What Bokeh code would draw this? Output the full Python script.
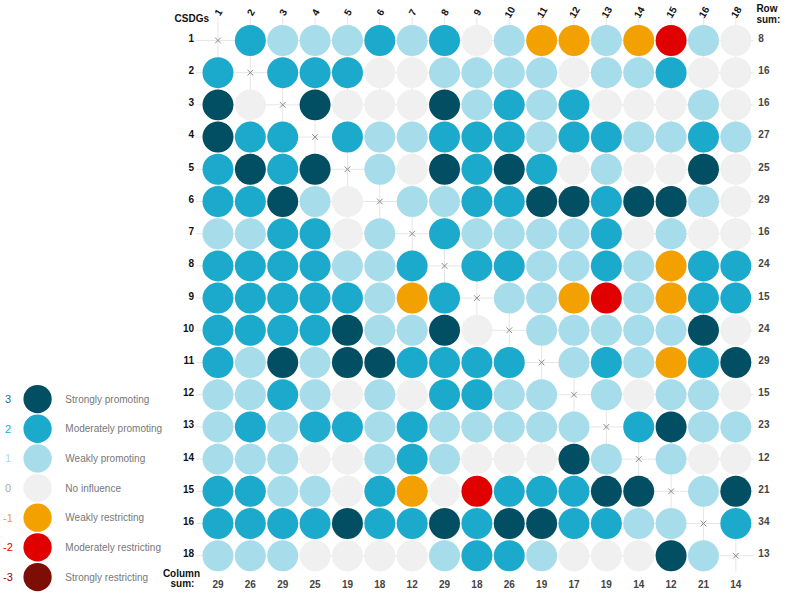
import math
from bokeh.plotting import figure
from bokeh.models import ColumnDataSource, Range1d
from bokeh.core.properties import value
from bokeh.embed import file_html
from bokeh.resources import INLINE

# ---------------- data ----------------
sdgs = ["1", "2", "3", "4", "5", "6", "7", "8", "9", "10", "11", "12", "13", "14", "15", "16", "18"]

# influence of row SDG on column SDG (None = diagonal)
sdg_1 = [None, 2, 1, 1, 1, 2, 1, 2, 0, 1, -1, -1, 1, -1, -2, 1, 0]
sdg_2 = [2, None, 2, 2, 2, 0, 0, 1, 1, 1, 1, 0, 1, 1, 2, 0, 0]
sdg_3 = [3, 0, None, 3, 0, 0, 0, 3, 1, 2, 1, 2, 0, 0, 0, 1, 0]
sdg_4 = [3, 2, 2, None, 2, 1, 1, 2, 2, 2, 1, 2, 2, 1, 1, 2, 1]
sdg_5 = [2, 3, 2, 3, None, 1, 0, 3, 2, 3, 2, 0, 1, 0, 0, 3, 0]
sdg_6 = [2, 2, 3, 1, 0, None, 1, 1, 2, 2, 3, 3, 2, 3, 3, 1, 0]
sdg_7 = [1, 1, 2, 2, 0, 1, None, 2, 1, 1, 1, 1, 2, 0, 1, 0, 0]
sdg_8 = [2, 2, 2, 2, 1, 1, 2, None, 2, 2, 1, 1, 2, 1, -1, 2, 2]
sdg_9 = [2, 2, 2, 2, 2, 1, -1, 2, None, 1, 1, -1, -2, 1, -1, 2, 2]
sdg_10 = [2, 2, 2, 2, 3, 1, 1, 3, 0, None, 1, 1, 1, 1, 1, 3, 0]
sdg_11 = [2, 1, 3, 1, 3, 3, 2, 2, 2, 2, None, 1, 2, 1, -1, 2, 3]
sdg_12 = [1, 1, 2, 1, 0, 1, 0, 2, 2, 1, 1, None, 1, 0, 1, 1, 0]
sdg_13 = [1, 2, 1, 2, 2, 1, 2, 1, 1, 1, 1, 1, None, 2, 3, 1, 1]
sdg_14 = [1, 1, 1, 0, 0, 1, 2, 1, 0, 0, 0, 3, 1, None, 1, 0, 0]
sdg_15 = [2, 2, 1, 1, 0, 2, -1, 0, -2, 2, 2, 2, 3, 3, None, 1, 3]
sdg_16 = [2, 2, 2, 2, 3, 2, 2, 3, 2, 3, 3, 2, 2, 1, 1, None, 2]
sdg_18 = [1, 1, 1, 0, 0, 0, 0, 1, 2, 2, 1, 0, 0, 0, 3, 1, None]

row_sums = [8, 16, 16, 27, 25, 29, 16, 24, 15, 24, 29, 15, 23, 12, 21, 34, 13]
col_sums = [29, 26, 29, 25, 19, 18, 12, 29, 18, 26, 19, 17, 19, 14, 12, 21, 14]

levels = [3, 2, 1, 0, -1, -2, -3]
level_names = ["Strongly promoting", "Moderately promoting", "Weakly promoting",
               "No influence", "Weakly restricting", "Moderately restricting",
               "Strongly restricting"]

# ---------------- styles ----------------
level_colors = {3: "#024e62", 2: "#1ba9cc", 1: "#a7dceb", 0: "#f0f0f0",
                -1: "#f2a100", -2: "#e00000", -3: "#7c0e06"}
level_text_colors = {3: "#1d6a7e", 2: "#1ba9cc", 1: "#a7dceb", 0: "#aaaaaa",
                     -1: "#f2a100", -2: "#e00000", -3: "#7c0e06"}
FONT = value("Liberation Sans")

# reference-pixel to grid-unit helpers (layout only)
X0, DX = 221.7, 33.44
Y0, DY = 37.5, 33.45
def gx(px):
    return (px - X0) / DX
def gy(py):
    return (py - Y0) / DY

matrix = [sdg_1, sdg_2, sdg_3, sdg_4, sdg_5, sdg_6, sdg_7, sdg_8, sdg_9,
          sdg_10, sdg_11, sdg_12, sdg_13, sdg_14, sdg_15, sdg_16, sdg_18]
n = len(sdgs)

p = figure(width=783, height=595, output_backend="svg", toolbar_location=None,
           x_range=Range1d(gx(-3), gx(806)), y_range=Range1d(gy(614), gy(-4)),
           x_axis_location=None, y_axis_location=None, min_border=0,
           background_fill_color="white", border_fill_color="white")
p.grid.visible = False
p.outline_line_color = None

# grid lines
idx = list(range(n))
p.segment(x0=[gx(199)] * n, x1=[gx(775)] * n, y0=idx, y1=idx,
          line_color="#e6e6e6", line_width=1)
p.segment(x0=idx, x1=idx, y0=[gy(13)] * n, y1=[gy(589)] * n,
          line_color="#e6e6e6", line_width=1)

# cells
cx, cy, cc, dx_, dy_ = [], [], [], [], []
for r, row in enumerate(matrix):
    for c, v in enumerate(row):
        if v is None:
            dx_.append(c)
            dy_.append(r)
        else:
            cx.append(c)
            cy.append(r)
            cc.append(level_colors[v])
src = ColumnDataSource(dict(x=cx, y=cy, color=cc))
p.circle(x="x", y="y", radius=16.0 / DX, fill_color="color", line_color=None, source=src)
p.scatter(x=dx_, y=dy_, marker="x", size=8, line_color="#8c8c8c", line_width=1)

# row labels, row sums
off = -0.08
p.text(x=[gx(197)] * n, y=[i + off for i in idx], text=sdgs, text_font=FONT,
       text_font_size="10px", text_font_style="bold", text_align="right",
       text_baseline="middle", text_color="#111111")
p.text(x=[gx(780)] * n, y=[i + off for i in idx], text=[str(s) for s in row_sums],
       text_font=FONT, text_font_size="10px", text_font_style="bold",
       text_align="left", text_baseline="middle", text_color="#444444")

# column labels, column sums
p.text(x=idx, y=[gy(8)] * n, text=sdgs, text_font=FONT, text_font_size="10px",
       text_font_style="bold", text_align="center", text_baseline="middle",
       text_color="#111111", angle=math.radians(60))
p.text(x=idx, y=[gy(602)] * n, text=[str(s) for s in col_sums], text_font=FONT,
       text_font_size="10px", text_font_style="bold", text_align="center",
       text_baseline="middle", text_color="#444444")

# headers
p.text(x=[gx(212.5)], y=[gy(15)], text=["CSDGs"], text_font=FONT, text_font_size="10px",
       text_font_style="bold", text_align="right", text_baseline="middle", text_color="#111111")
p.text(x=[gx(778), gx(778)], y=[gy(4.5), gy(16)], text=["Row", "sum:"], text_font=FONT,
       text_font_size="10px", text_font_style="bold", text_align="left",
       text_baseline="middle", text_color="#111111")
p.text(x=[gx(184), gx(185)], y=[gy(591), gy(602)], text=["Column", "sum:"], text_font=FONT,
       text_font_size="10px", text_font_style="bold", text_align="center",
       text_baseline="middle", text_color="#111111")

# legend
ly = [gy(410 + 30.8 * i) for i in range(len(levels))]
p.circle(x=[gx(35.3)] * len(levels), y=ly, radius=14.6 / DX,
         fill_color=[level_colors[l] for l in levels], line_color=None)
p.text(x=[gx(4.7)] * len(levels), y=ly, text=[str(l) for l in levels], text_font=FONT,
       text_font_size="11px", text_align="center", text_baseline="middle",
       text_color=[level_text_colors[l] for l in levels])
p.text(x=[gx(64)] * len(levels), y=ly, text=level_names, text_font=FONT,
       text_font_size="10px", text_align="left", text_baseline="middle",
       text_color="#777777")

open("out.html", "w").write(file_html(p, INLINE))
